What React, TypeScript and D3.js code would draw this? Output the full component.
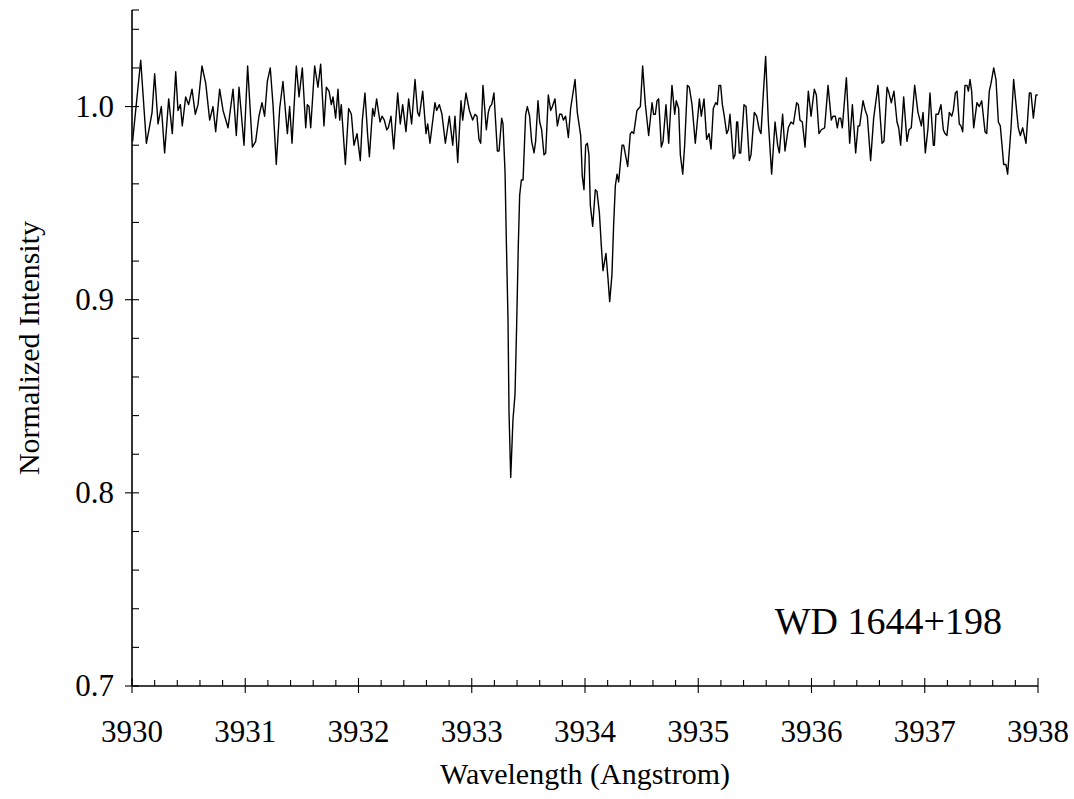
import React from "react";
import * as d3 from "d3";

// ---- data ----
const wavelength: number[] = [
  3930.005, 3930.077, 3930.127, 3930.156, 3930.177, 3930.2, 3930.23, 3930.259, 3930.288, 3930.324,
  3930.356, 3930.386, 3930.406, 3930.427, 3930.444, 3930.474, 3930.5, 3930.53, 3930.559, 3930.583,
  3930.618, 3930.651, 3930.686, 3930.715, 3930.739, 3930.774, 3930.804, 3930.848, 3930.892, 3930.921,
  3930.945, 3930.989, 3931.021,
  3931.063, 3931.092, 3931.121, 3931.148, 3931.171, 3931.195, 3931.221, 3931.245, 3931.274, 3931.304,
  3931.333, 3931.363, 3931.372, 3931.392, 3931.413, 3931.451, 3931.475, 3931.504, 3931.534, 3931.548,
  3931.563, 3931.578, 3931.613, 3931.642, 3931.666, 3931.695, 3931.716, 3931.74, 3931.76, 3931.775,
  3931.798, 3931.819, 3931.834, 3931.848, 3931.884, 3931.913, 3931.937, 3931.96, 3931.987, 3932.016,
  3932.034,
  3932.057, 3932.081, 3932.096, 3932.125, 3932.14, 3932.16, 3932.19, 3932.208, 3932.228, 3932.249,
  3932.263, 3932.287, 3932.311, 3932.346, 3932.369, 3932.39, 3932.419, 3932.443, 3932.469, 3932.499,
  3932.522, 3932.537, 3932.567, 3932.596, 3932.611, 3932.631, 3932.675, 3932.69, 3932.714, 3932.737,
  3932.767, 3932.802, 3932.832, 3932.852, 3932.876, 3932.905, 3932.92, 3932.949, 3932.979, 3933.008,
  3933.029, 3933.046, 3933.064, 3933.079, 3933.099, 3933.129, 3933.146, 3933.161, 3933.176, 3933.196,
  3933.226, 3933.241, 3933.264, 3933.276, 3933.294, 3933.305, 3933.32, 3933.329, 3933.344, 3933.364,
  3933.382, 3933.397, 3933.411, 3933.423, 3933.438, 3933.453, 3933.476, 3933.491, 3933.511, 3933.529,
  3933.55, 3933.564, 3933.585, 3933.6, 3933.617, 3933.638, 3933.653, 3933.676, 3933.697, 3933.712,
  3933.735, 3933.756, 3933.776, 3933.794, 3933.809, 3933.829, 3933.853, 3933.873, 3933.912, 3933.932,
  3933.962, 3933.976, 3933.991, 3934.006, 3934.021, 3934.035,
  3934.047, 3934.068, 3934.091, 3934.106, 3934.127, 3934.144, 3934.159, 3934.185, 3934.203, 3934.218,
  3934.238, 3934.253, 3934.268, 3934.283, 3934.297, 3934.327, 3934.341, 3934.377, 3934.4, 3934.415,
  3934.43, 3934.459, 3934.489, 3934.509, 3934.533, 3934.562, 3934.592, 3934.606, 3934.621, 3934.636,
  3934.65, 3934.674, 3934.689, 3934.715, 3934.739, 3934.768, 3934.792, 3934.806, 3934.827, 3934.842,
  3934.863, 3934.88, 3934.904, 3934.921, 3934.945, 3934.974, 3935.01, 3935.027,
  3935.051, 3935.074, 3935.095, 3935.113, 3935.133, 3935.154, 3935.169, 3935.183, 3935.198, 3935.213,
  3935.23, 3935.251, 3935.266, 3935.28, 3935.31, 3935.325, 3935.339, 3935.348, 3935.363, 3935.375,
  3935.404, 3935.422, 3935.451, 3935.466, 3935.495, 3935.516, 3935.539, 3935.554, 3935.575, 3935.595,
  3935.619, 3935.648, 3935.678, 3935.701, 3935.716, 3935.745, 3935.766, 3935.795, 3935.819, 3935.84,
  3935.869, 3935.884, 3935.898, 3935.919, 3935.943, 3935.972, 3935.996, 3936.025,
  3936.043, 3936.066, 3936.087, 3936.116, 3936.146, 3936.175, 3936.19, 3936.21, 3936.228, 3936.243,
  3936.258, 3936.272, 3936.308, 3936.337, 3936.361, 3936.39, 3936.411, 3936.425, 3936.455, 3936.475,
  3936.493, 3936.522, 3936.549, 3936.587, 3936.623, 3936.64, 3936.667, 3936.684, 3936.705, 3936.728,
  3936.755, 3936.77, 3936.787, 3936.814, 3936.843, 3936.861, 3936.881, 3936.911, 3936.94, 3936.97,
  3936.985, 3937.005, 3937.029,
  3937.046, 3937.076, 3937.085, 3937.099, 3937.12, 3937.143, 3937.164, 3937.179, 3937.196, 3937.217,
  3937.238, 3937.252, 3937.27, 3937.285, 3937.305, 3937.32, 3937.335, 3937.355, 3937.373, 3937.385,
  3937.4, 3937.414, 3937.432, 3937.461, 3937.482, 3937.503, 3937.532, 3937.547, 3937.57, 3937.585,
  3937.609, 3937.629, 3937.65, 3937.667, 3937.697, 3937.717, 3937.732, 3937.762, 3937.785, 3937.806,
  3937.826, 3937.844, 3937.865, 3937.894, 3937.924, 3937.938, 3937.959, 3937.982, 3937.997,
];

const intensity: number[] = [
  0.982, 1.024, 0.981, 0.99, 0.997, 1.017, 0.991, 1.0, 0.976, 1.004,
  0.986, 1.018, 0.998, 1.001, 0.99, 1.005, 1.001, 1.009, 0.996, 1.001,
  1.021, 1.012, 0.993, 1.0, 0.987, 1.009, 0.998, 0.989, 1.009, 0.985,
  1.01, 0.98, 1.021,
  0.979, 0.982, 0.995, 1.002, 0.995, 1.013, 1.02, 1.001, 0.97, 0.999,
  1.013, 0.992, 0.986, 1.0, 0.981, 1.021, 1.005, 1.02, 0.989, 1.001,
  1.0, 0.989, 1.021, 1.01, 1.022, 0.99, 1.01, 1.008, 1.001, 1.005,
  0.994, 1.009, 0.993, 1.001, 0.97, 0.999, 0.996, 0.98, 0.986, 0.972,
  0.993,
  1.007, 0.985, 0.974, 0.999, 0.995, 1.004, 0.992, 0.995, 0.993, 0.988,
  0.989, 0.995, 0.978, 1.007, 0.991, 1.001, 0.987, 1.004, 0.991, 1.014,
  0.997, 0.995, 1.008, 0.986, 0.991, 0.981, 1.002, 0.998, 1.001, 0.996,
  0.981, 0.995, 0.98, 0.995, 0.971, 1.003, 0.993, 1.007, 0.998, 0.993,
  0.996, 0.995, 0.983, 0.981, 1.011, 0.988, 0.997, 1.0, 1.001, 1.007,
  0.977, 0.977, 0.994, 0.991, 0.966, 0.932, 0.89, 0.842, 0.808, 0.838,
  0.851, 0.888, 0.928, 0.954, 0.962, 0.962, 0.996, 1.0, 0.995, 0.982,
  0.976, 0.982, 1.003, 0.992, 0.988, 0.975, 0.976, 1.006, 0.998, 1.0,
  1.004, 0.99, 0.996, 0.996, 0.993, 0.995, 0.984, 0.999, 1.014, 0.997,
  0.985, 0.964, 0.957, 0.98, 0.981, 0.975,
  0.949, 0.938, 0.957, 0.956, 0.945, 0.928, 0.915, 0.924, 0.911, 0.899,
  0.913, 0.939, 0.959, 0.965, 0.961, 0.98, 0.98, 0.969, 0.986, 0.987,
  0.986, 0.998, 1.0, 1.021, 1.001, 0.985, 1.002, 0.996, 0.996, 1.003,
  1.004, 0.979, 0.982, 1.001, 0.981, 1.011, 0.996, 1.003, 0.999, 0.975,
  0.965, 0.98, 1.011, 1.01, 1.001, 0.981, 1.004, 0.995,
  1.004, 0.983, 0.986, 0.978, 0.999, 1.002, 1.001, 1.011, 1.011, 1.001,
  0.995, 0.986, 0.988, 0.996, 0.973, 0.975, 0.992, 0.992, 0.976, 0.976,
  1.001, 1.0, 0.972, 0.975, 0.997, 0.995, 0.988, 0.986, 1.007, 1.026,
  0.992, 0.965, 0.992, 0.98, 0.976, 0.996, 0.977, 0.989, 0.992, 0.991,
  1.002, 1.001, 0.993, 0.992, 0.979, 1.008, 0.995, 1.009,
  1.006, 0.986, 0.988, 0.989, 1.011, 0.993, 0.995, 0.995, 0.989, 0.994,
  0.994, 0.989, 1.015, 0.981, 1.001, 0.976, 0.99, 0.99, 1.003, 0.998,
  0.995, 0.972, 0.994, 1.011, 0.981, 0.982, 1.01, 1.007, 1.002, 1.008,
  0.992, 0.989, 0.98, 1.005, 0.982, 0.988, 0.989, 1.011, 0.997, 0.99,
  0.997, 0.976, 0.989,
  1.007, 0.98, 0.98, 0.996, 0.996, 1.001, 0.988, 0.986, 0.985, 0.997,
  0.995, 0.998, 1.007, 1.008, 0.991, 0.99, 0.987, 1.011, 1.011, 1.008,
  1.014, 1.008, 0.989, 1.002, 1.0, 1.003, 0.987, 0.986, 1.008, 1.012,
  1.02, 1.014, 0.992, 0.99, 0.97, 0.97, 0.965, 0.989, 1.014, 1.001,
  0.989, 0.985, 0.989, 0.981, 1.007, 1.007, 0.994, 1.006, 1.006,
];

const xMajorTicks: number[] = [3930, 3931, 3932, 3933, 3934, 3935, 3936, 3937, 3938];
const yMajorTicks: number[] = [0.7, 0.8, 0.9, 1.0];
const xDomain: [number, number] = [3930, 3938];
const yDomain: [number, number] = [0.7, 1.05];
const xTitle = "Wavelength (Angstrom)";
const yTitle = "Normalized Intensity";
const annotation = "WD 1644+198";

const W = 1074;
const H = 799;
const left = 132;
const right = 1038;
const top = 10;
const bottom = 686;
const textStyle: React.CSSProperties = { fontFamily: '"Liberation Serif", serif' };

export default function App() {
  const x = d3.scaleLinear().domain(xDomain).range([left, right]);
  const y = d3.scaleLinear().domain(yDomain).range([bottom, top]);

  const pts: [number, number][] = wavelength.map((w, i) => [w, intensity[i]]);
  const line = d3
    .line<[number, number]>()
    .x((d) => x(d[0]))
    .y((d) => y(d[1]));

  const xMinor = d3.range(0, 41).map((i) => 3930 + i * 0.2).filter((v) => Math.abs(v - Math.round(v)) > 1e-6);
  const yMinor = d3
    .range(0, 18)
    .map((i) => 0.7 + i * 0.02)
    .filter((v) => v <= 1.05 + 1e-9 && !yMajorTicks.some((m) => Math.abs(m - v) < 1e-6));

  return (
    <svg
      width={W}
      height={H}
      style={{ position: "absolute", left: 0, top: 0, background: "#fff" }}
    >
      <rect x={0} y={0} width={W} height={H} fill="#fff" />
      {/* spectrum */}
      <path d={line(pts) || ""} fill="none" stroke="#000" strokeWidth={1.4} strokeLinejoin="round" />

      {/* axes */}
      <line x1={left} x2={left} y1={top} y2={bottom} stroke="#000" strokeWidth={1.6} />
      <line x1={left} x2={right} y1={bottom} y2={bottom} stroke="#000" strokeWidth={1.6} />

      {/* y ticks */}
      {yMajorTicks.map((v) => (
        <g key={"ym" + v}>
          <line x1={left - 7} x2={left + 7} y1={y(v)} y2={y(v)} stroke="#000" strokeWidth={1.1} />
          <text x={114} y={y(v) + 10} fontSize={31} textAnchor="end" fill="#000" style={textStyle}>
            {v.toFixed(1)}
          </text>
        </g>
      ))}
      {yMinor.map((v) => (
        <line key={"yn" + v} x1={left} x2={left + 7} y1={y(v)} y2={y(v)} stroke="#000" strokeWidth={1.1} />
      ))}
      <line x1={left} x2={left + 7} y1={y(yDomain[1])} y2={y(yDomain[1])} stroke="#000" strokeWidth={1.1} />

      {/* x ticks */}
      {xMajorTicks.map((v) => (
        <g key={"xm" + v}>
          <line x1={x(v)} x2={x(v)} y1={bottom - 8} y2={bottom + 7} stroke="#000" strokeWidth={1.1} />
          <text x={x(v)} y={742} fontSize={31} textAnchor="middle" fill="#000" style={textStyle}>
            {v}
          </text>
        </g>
      ))}
      {xMinor.map((v) => (
        <line key={"xn" + v.toFixed(1)} x1={x(v)} x2={x(v)} y1={bottom - 6} y2={bottom} stroke="#000" strokeWidth={1.1} />
      ))}

      {/* titles */}
      <text x={585} y={784} fontSize={30} textAnchor="middle" fill="#000" style={textStyle}>
        {xTitle}
      </text>
      <text
        transform={`translate(39, ${348}) rotate(-90)`}
        fontSize={30}
        textAnchor="middle"
        fill="#000"
        style={textStyle}
      >
        {yTitle}
      </text>
      <text x={1002} y={634} fontSize={38} textAnchor="end" fill="#000" style={textStyle}>
        {annotation}
      </text>
    </svg>
  );
}
